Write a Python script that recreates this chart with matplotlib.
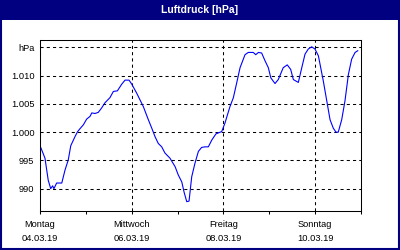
import matplotlib
matplotlib.use('Agg')
import matplotlib.pyplot as plt
from matplotlib.patches import Rectangle

# Stunden seit Montag 04.03.19 00:00 und Luftdruck in hPa
stunden = [0.5, 2.6, 4.3, 5.6, 6.6, 7.3, 8.7, 11.4, 13.1, 14.8, 16.1, 18.3, 19.7, 20.9,
           22.7, 24.4, 26.2, 27.1, 28.8, 30.5, 32.3, 34.0, 36.6, 38.4, 40.5, 42.8, 44.5,
           46.6, 48.0, 50.6, 54.1, 56.7, 58.5, 60.2, 61.9, 63.7, 65.4, 68.0, 70.7, 72.4,
           74.2, 75.4, 76.8, 78.0, 79.4, 81.1, 82.9, 84.6, 86.4, 88.1, 89.9, 92.1, 95.1,
           96.8, 99.4, 101.2, 103.0, 104.7, 107.3, 109.0, 111.6, 112.9, 114.3, 116.0,
           117.8, 119.5, 120.8, 123.0, 124.7, 127.3, 129.4, 131.2, 132.6, 135.2, 137.0,
           138.7, 140.4, 142.2, 143.9, 145.7, 148.3, 150.1, 151.8, 153.5, 154.9, 156.1,
           157.9, 159.6, 161.4, 163.1, 164.9, 166.3]
druck = [997.2, 995.4, 991.5, 990.0, 990.5, 990.0, 991.0, 991.0, 993.3, 995.1, 997.6,
         999.2, 1000.1, 1000.6, 1001.3, 1002.3, 1002.8, 1003.4, 1003.3, 1003.5, 1004.3,
         1005.2, 1006.1, 1007.2, 1007.3, 1008.5, 1009.2, 1009.2, 1008.5, 1006.9, 1004.5,
         1002.2, 1000.7, 999.2, 998.0, 997.4, 996.3, 995.4, 993.9, 992.4, 991.2, 989.4,
         987.7, 987.8, 992.1, 994.5, 996.6, 997.3, 997.4, 997.4, 998.6, 999.7, 1000.1,
         1001.6, 1004.5, 1006.1, 1008.8, 1011.4, 1013.7, 1014.1, 1014.1, 1013.7, 1014.1,
         1014.0, 1012.6, 1011.4, 1009.6, 1008.6, 1009.3, 1011.4, 1011.9, 1011.1, 1009.3,
         1008.8, 1011.4, 1013.8, 1014.7, 1015.1, 1014.7, 1013.5, 1009.0, 1005.5, 1002.2,
         1000.7, 1000.0, 1000.0, 1002.2, 1005.5, 1010.2, 1012.9, 1014.1, 1014.4]

x_ticks = [0, 48, 96, 144]
x_labels = ['Montag\n04.03.19', 'Mittwoch\n06.03.19', 'Freitag\n08.03.19', 'Sonntag\n10.03.19']
x_minor = [24, 72, 120, 168]
y_ticks = [990, 995, 1000, 1005, 1010, 1015]
y_labels = ['990', '995', '1.000', '1.005', '1.010', 'hPa']

plt.rcParams['font.family'] = ['Liberation Sans', 'DejaVu Sans']

navy = '#000080'
fig = plt.figure(figsize=(4, 2.5), dpi=100)
fig.patch.set_facecolor('white')

# Titelleiste und Rahmen
fig.patches.append(Rectangle((0, 230 / 250), 1, 20 / 250, transform=fig.transFigure,
                             facecolor=navy, edgecolor='none', zorder=0))
fig.patches.append(Rectangle((0.002, 0.003), 0.995, 0.995, transform=fig.transFigure,
                             facecolor='none', edgecolor=navy, linewidth=1.5, zorder=1))
fig.text(0.5, 240 / 250, 'Luftdruck [hPa]', color='white', fontsize=7.5,
         fontweight='bold', ha='center', va='center')

ax = fig.add_axes([40 / 400, 39 / 250, 321 / 400, 171 / 250])
ax.plot(stunden, druck, color='#0000ff', linewidth=0.8)

ax.set_xlim(0, 168)
ax.set_ylim(986.05, 1016.3)
ax.set_xticks(x_ticks)
ax.set_xticklabels(x_labels, linespacing=1.7)
ax.set_xticks(x_minor, minor=True)
ax.set_yticks(y_ticks)
ax.set_yticklabels(y_labels)

ax.tick_params(axis='x', which='both', direction='out', length=2.5, width=0.75,
               labelsize=6.7, pad=4)
ax.tick_params(axis='y', length=0, labelsize=6.7, pad=4)
ax.grid(True, which='major', color='black', linestyle=(0, (3, 3)), linewidth=0.75)

for s in ax.spines.values():
    s.set_linewidth(0.75)
    s.set_color('black')

fig.savefig('out.png', dpi=100)
